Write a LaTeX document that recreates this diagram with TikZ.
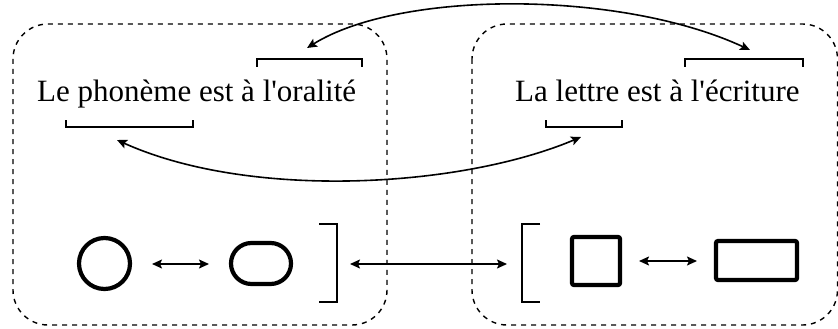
\documentclass[tikz,border=0pt]{standalone}
\usepackage{fontspec}
\setmainfont{Liberation Serif}[Ligatures=TeXOff]
\usetikzlibrary{arrows.meta}
\tikzset{
  grp/.style={draw, dash pattern=on 5pt off 5pt, line width=1.4pt, rounded corners=35pt},
  lbl/.style={font=\fontsize{31}{36}\selectfont, inner sep=0pt, anchor=base west},
  brk/.style={inner sep=0pt, outer sep=0pt},
  brkline/.style={line width=1.6pt},
  shp/.style={draw, line width=4.2pt, inner sep=0pt, outer sep=0pt},
  dbl/.style={line width=1.6pt, {Stealth[length=10pt,width=9pt,inset=2pt]}-{Stealth[length=10pt,width=9pt,inset=2pt]}}
}
\begin{document}
\begin{tikzpicture}[x=1pt,y=-1pt]
\useasboundingbox (0,0) rectangle (838,329);
% groups
\draw[grp] (13,24) rectangle (387,325);
\draw[grp] (472,24) rectangle (837.5,325);
% texts
\node[lbl] (t1) at (37,102) {Le phonème est à l'oralité};
\node[lbl] (t2) at (515,102) {La lettre est à l'écriture};
% text brackets
\node[brk, minimum width=105pt, minimum height=8pt] (bo) at (309.5,63) {};
\node[brk, minimum width=127pt, minimum height=7pt] (bp) at (129.5,123.5) {};
\node[brk, minimum width=118pt, minimum height=8pt] (be) at (744,63) {};
\node[brk, minimum width=76pt, minimum height=7pt] (bl) at (584,123.5) {};
\draw[brkline] (bo.south west) -- (bo.north west) -- (bo.north east) -- (bo.south east);
\draw[brkline] (be.south west) -- (be.north west) -- (be.north east) -- (be.south east);
\draw[brkline] (bp.north west) -- (bp.south west) -- (bp.south east) -- (bp.north east);
\draw[brkline] (bl.north west) -- (bl.south west) -- (bl.south east) -- (bl.north east);
% curved arrows
\coordinate (ao) at (307,48);
\coordinate (ae) at (750,50);
\coordinate (ap) at (117,140);
\coordinate (al) at (581,137);
\draw[dbl] (ao) .. controls (400,-10) and (621,-10) .. (ae);
\draw[dbl] (ap) .. controls (250,200) and (460,188) .. (al);
% bottom shapes
\node[shp, circle, minimum size=51pt] (circ) at (104.5,263.5) {};
\node[shp, rectangle, rounded corners=20.5pt, minimum width=60pt, minimum height=41pt] (stad) at (261,263.5) {};
\node[shp, rectangle, rounded corners=2pt, minimum width=48pt, minimum height=48pt] (sq) at (596,261) {};
\node[shp, rectangle, rounded corners=2pt, minimum width=81pt, minimum height=39pt] (rect) at (756.5,260.5) {};
\node[brk, minimum width=18pt, minimum height=78pt] (rb) at (328,263) {};
\node[brk, minimum width=18pt, minimum height=78pt] (lb) at (531,263) {};
\draw[brkline] (rb.north west) -- (rb.north east) -- (rb.south east) -- (rb.south west);
\draw[brkline] (lb.north east) -- (lb.north west) -- (lb.south west) -- (lb.south east);
\draw[dbl, shorten <=22pt, shorten >=22pt] (circ.east |- 0,264) -- (stad.west |- 0,264);
\draw[dbl, shorten <=19pt, shorten >=19pt] (sq.east) -- (rect.west |- sq.east);
\draw[dbl, shorten <=13pt, shorten >=15pt] (rb.east |- 0,264) -- (lb.west |- 0,264);
\end{tikzpicture}
\end{document}
